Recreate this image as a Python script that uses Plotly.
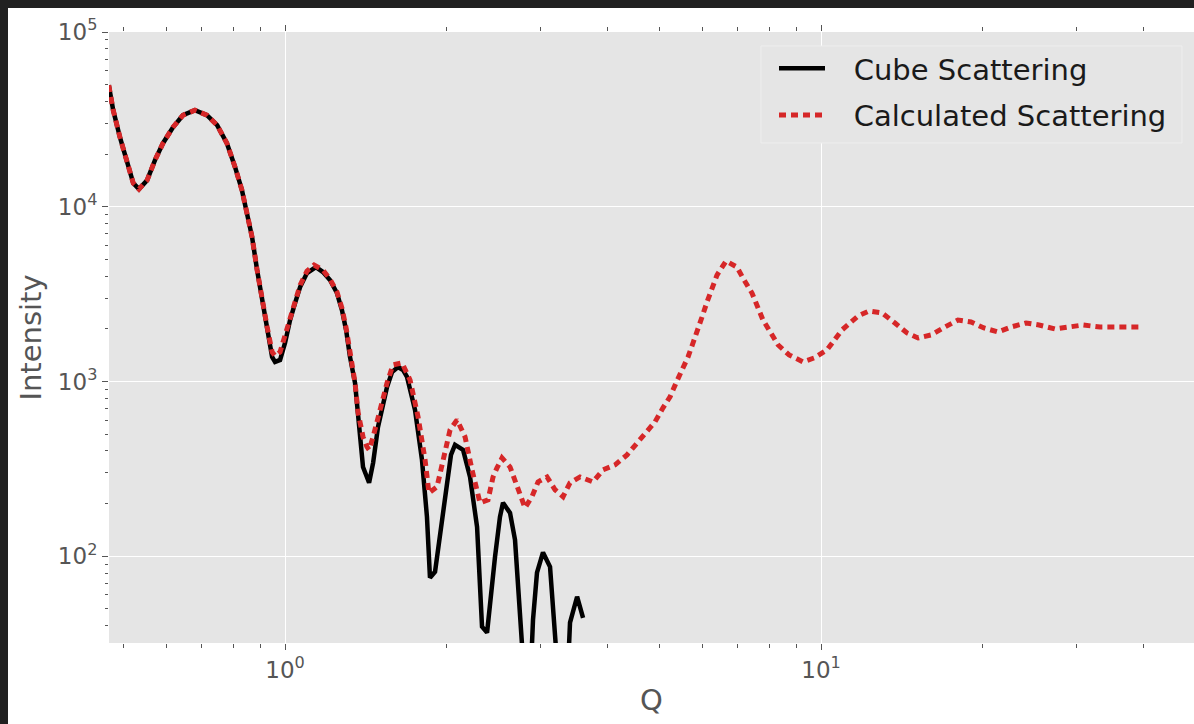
import plotly.graph_objects as go

# Scattering vector magnitude and intensity for the cube model
q_cube = [0.469, 0.478, 0.492, 0.507, 0.521, 0.534, 0.553, 0.572, 0.592, 0.618,
          0.645, 0.679, 0.715, 0.747, 0.779, 0.807, 0.831, 0.849, 0.868, 0.887,
          0.906, 0.926, 0.946, 0.958, 0.979, 1.000, 1.022, 1.044, 1.067, 1.099,
          1.142, 1.177, 1.213, 1.250, 1.277, 1.300, 1.322, 1.351, 1.380, 1.398,
          1.435, 1.460, 1.491, 1.550, 1.584, 1.625, 1.660, 1.689, 1.748, 1.801,
          1.840, 1.864, 1.905, 1.946, 2.006, 2.040, 2.076, 2.112, 2.149, 2.214,
          2.282, 2.331, 2.382, 2.465, 2.518, 2.551, 2.629, 2.686, 2.756, 2.804,
          2.865, 2.902, 2.952, 3.029, 3.122, 3.190, 3.245, 3.359, 3.402, 3.507,
          3.598]
i_cube = [49600, 35700, 25000, 17760, 13640, 12610, 14190, 18470, 23100, 28520,
          33390, 35700, 33390, 29280, 23100, 16840, 12440, 9190, 6700, 4340,
          2920, 2050, 1381, 1293, 1327, 1660, 2247, 2810, 3470, 4172,
          4515, 4228, 3805, 3206, 2564, 1970, 1381, 980, 508, 324,
          263, 342, 549, 930, 1133, 1210, 1163, 1061, 687, 356,
          168, 75.3, 81.5, 129, 263, 380, 434, 422, 406, 284,
          147, 39.5, 36.5, 99.2, 168, 202, 177, 124, 33.3, 17.2,
          17.2, 43.3, 80.4, 105, 87.0, 40.5, 17.2, 17.2, 41.6, 58.6,
          44.4]

# Calculated scattering over the wider Q range
q_calc = [0.469, 0.478, 0.492, 0.507, 0.521, 0.534, 0.553, 0.572, 0.592, 0.618,
          0.645, 0.679, 0.715, 0.747, 0.779, 0.807, 0.831, 0.849, 0.868, 0.887,
          0.906, 0.926, 0.946, 0.958, 0.979, 1.000, 1.022, 1.044, 1.067, 1.099,
          1.133, 1.177, 1.213, 1.250, 1.277, 1.300, 1.322, 1.351, 1.369, 1.398,
          1.422, 1.435, 1.460, 1.504, 1.550, 1.590, 1.653, 1.711, 1.771, 1.825,
          1.856, 1.921, 1.972, 2.032, 2.094, 2.167, 2.233, 2.311, 2.392, 2.444,
          2.486, 2.540, 2.629, 2.686, 2.744, 2.804, 2.889, 2.965, 3.082, 3.190,
          3.302, 3.402, 3.551, 3.755, 3.920, 4.128, 4.346, 4.537, 4.736, 4.901,
          5.072, 5.228, 5.364, 5.505, 5.648, 5.770, 5.895, 5.998, 6.128, 6.261,
          6.397, 6.650, 6.970, 7.152, 7.434, 7.794, 8.318, 8.719, 9.256, 9.703,
          10.26, 10.94, 11.72, 12.29, 13.00, 13.74, 14.47, 15.17, 16.04, 17.03,
          18.01, 19.05, 20.14, 21.39, 22.61, 24.13, 25.51, 27.33, 29.15, 30.82,
          33.15, 35.36, 37.39, 39.71]
i_calc = [49600, 35700, 25000, 17760, 13640, 12610, 14190, 18470, 23100, 28520,
          33390, 35700, 33390, 29280, 23100, 16840, 12440, 9190, 6700, 4340,
          2920, 2050, 1475, 1399, 1475, 1820, 2368, 2920, 3562, 4284,
          4636, 4340, 3855, 3249, 2632, 2022, 1475, 980, 661, 482,
          422, 406, 482, 687, 980, 1243, 1276, 1020, 627, 356,
          230, 249, 356, 528, 603, 482, 312, 202, 210, 284,
          320, 365, 324, 273, 224, 189, 219, 266, 284, 240,
          219, 263, 284, 266, 312, 333, 380, 445, 508, 587,
          706, 816, 980, 1163, 1381, 1660, 1970, 2337, 2847, 3424,
          4064, 4887, 4515, 3906, 3206, 2247, 1617, 1418, 1295, 1362,
          1514, 1970, 2368, 2530, 2464, 2160, 1894, 1773, 1845, 2049,
          2247, 2189, 2022, 1919, 2049, 2160, 2104, 1996, 2049, 2104,
          2049, 2049, 2049, 2049]

# Tick positions and labels
x_major = [1, 10]
x_major_text = ["10<sup>0</sup>", "10<sup>1</sup>"]
x_minor = [0.5, 0.6, 0.7, 0.8, 0.9, 2, 3, 4, 5, 6, 7, 8, 9, 20, 30, 40]
y_major = [100, 1000, 10000, 100000]
y_major_text = ["10<sup>2</sup>", "10<sup>3</sup>", "10<sup>4</sup>", "10<sup>5</sup>"]
y_minor = [40, 50, 60, 70, 80, 90,
           200, 300, 400, 500, 600, 700, 800, 900,
           2000, 3000, 4000, 5000, 6000, 7000, 8000, 9000,
           20000, 30000, 40000, 50000, 60000, 70000, 80000, 90000]

FONT = "DejaVu Sans"
TICK_GREY = "#555555"
PANEL = "#E5E5E5"

W, H = 1194, 724
ML, MR, MT, MB = 109, 0, 32, 81
PW, PH = W - ML - MR, H - MT - MB


def px_x(p):
    return (p - ML) / PW


def px_y(p):
    return (H - MB - p) / PH


# Gap between the legend key and its label
KEY_GAP = "\u2002\u00a0"

fig = go.Figure()
fig.add_trace(go.Scatter(
    x=q_cube, y=i_cube, mode="lines", name=KEY_GAP + "Cube Scattering",
    legendgroup="cube",
    line=dict(color="black", width=4.5),
))
fig.add_trace(go.Scatter(
    x=q_calc, y=i_calc, mode="lines", name=KEY_GAP + "Calculated Scattering",
    legendgroup="calc",
    line=dict(color="#d62728", width=5, dash="7px,5px"),
))

axis_common = dict(
    type="log",
    showline=False,
    zeroline=False,
    showgrid=True,
    gridcolor="white",
    gridwidth=1,
    ticks="outside",
    ticklen=6,
    tickwidth=1,
    tickcolor=TICK_GREY,
    mirror="ticks",
    tickfont=dict(family=FONT, size=23, color=TICK_GREY),
    tickmode="array",
)

fig.update_xaxes(
    **axis_common,
    range=[-0.3284, 1.6959],
    tickvals=x_major,
    ticktext=x_major_text,
    minor=dict(tickmode="array", tickvals=x_minor, ticks="outside",
               ticklen=4, tickcolor=TICK_GREY, showgrid=False),
    title=dict(text="Q", font=dict(family=FONT, size=29, color=TICK_GREY), standoff=8),
)
fig.update_yaxes(
    **axis_common,
    range=[1.503, 5.0],
    tickvals=y_major,
    ticktext=y_major_text,
    minor=dict(tickmode="array", tickvals=y_minor, ticks="outside",
               ticklen=3, tickcolor=TICK_GREY, showgrid=False),
    title=dict(text="Intensity", font=dict(family=FONT, size=29, color=TICK_GREY), standoff=7),
)

# Dark frame strips along the top and left edges of the page
dark = "#212121"
fig.add_shape(type="rect", xref="paper", yref="paper",
              x0=px_x(0), x1=px_x(W), y0=px_y(8), y1=px_y(0),
              fillcolor=dark, line=dict(width=0), layer="above")
fig.add_shape(type="rect", xref="paper", yref="paper",
              x0=px_x(0), x1=px_x(8), y0=px_y(H), y1=px_y(0),
              fillcolor=dark, line=dict(width=0), layer="above")

# Legend frame
fig.add_shape(type="rect", xref="paper", yref="paper",
              x0=px_x(761), x1=px_x(1182), y0=px_y(143), y1=px_y(46),
              fillcolor=PANEL, line=dict(color="#eeeeee", width=1), layer="above")

fig.update_layout(
    width=W, height=H,
    margin=dict(l=ML, r=MR, t=MT, b=MB, pad=0),
    paper_bgcolor="white",
    plot_bgcolor=PANEL,
    font=dict(family=FONT, color=TICK_GREY),
    showlegend=True,
    legend=dict(
        x=px_x(774), y=px_y(43), xanchor="left", yanchor="top",
        bgcolor="rgba(0,0,0,0)", borderwidth=0,
        font=dict(family=FONT, size=29, color="#1a1a1a"),
        itemwidth=46,
        tracegroupgap=6,
    ),
)

fig.write_html("out.html")
